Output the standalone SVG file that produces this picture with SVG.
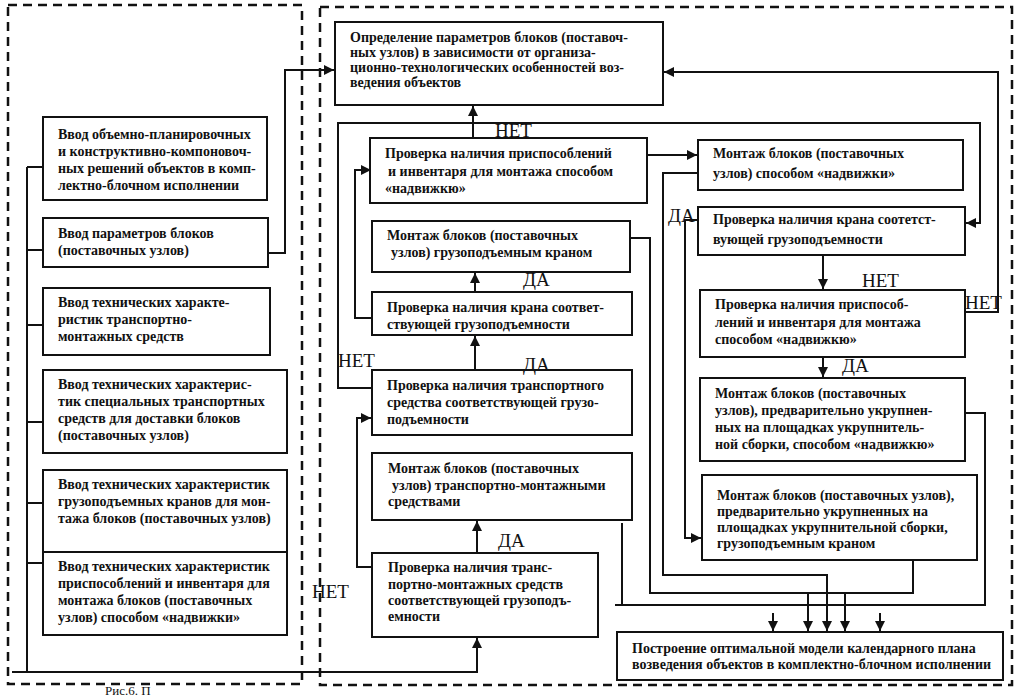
<svg xmlns="http://www.w3.org/2000/svg" width="1028" height="696" viewBox="0 0 1028 696">
<defs>
<marker id="ah" viewBox="0 0 10 10" refX="10" refY="5" markerWidth="10" markerHeight="10" markerUnits="userSpaceOnUse" orient="auto">
<path d="M0,0 L10,5 L0,10 z" fill="#111"/>
</marker>
</defs>
<style>
.bx{fill:#fff;stroke:#111;stroke-width:2}
.dash{fill:none;stroke:#111;stroke-width:2.5;stroke-dasharray:9 6}
.ln{fill:none;stroke:#111;stroke-width:2}
.ar{fill:none;stroke:#111;stroke-width:2;marker-end:url(#ah)}
.t{font-family:"Liberation Serif","Times New Roman",serif;font-size:14px;font-weight:bold;fill:#111}
.lb{font-family:"Liberation Serif","Times New Roman",serif;font-size:19px;fill:#111}
</style>
<rect width="1028" height="696" fill="#fff"/>
<g id="frames">
<rect class="dash" x="8" y="5" width="294" height="679"/>
<rect class="dash" x="320" y="7" width="692" height="678"/>
</g>
<g id="connectors">
<path class="ln" d="M27,167 V672 M27,167 H43 M27,250 H43 M27,325 H43 M27,422 H43 M27,503 H43 M27,563 H43"/>
<path class="ar" d="M12,672 H477 V638"/>
<path class="ar" d="M268,253 H285 V70 H334"/>
<path class="ar" d="M965,312 H998 V72 H664"/>
<path class="ar" d="M473,138 V106"/>
<path class="ar" d="M372,388 H338 V123 H980 V223 H966"/>
<path class="ar" d="M647,155 H697"/>
<path class="ar" d="M372,318 H355 V170 H371"/>
<path class="ar" d="M475,292 V273"/>
<path class="ar" d="M475,370 V336"/>
<path class="ar" d="M477,553 V521"/>
<path class="ar" d="M372,567 H357 V418 H371"/>
<path class="ln" d="M630,238 H650 V593 H913 V560"/>
<path class="ar" d="M808,593 V631"/>
<path class="ar" d="M845,593 V631"/>
<path class="ar" d="M698,173 H663 V575 H827 V631"/>
<path class="ar" d="M698,220 H685 V538 H701"/>
<path class="ln" d="M622,523 V605 M615,605 H985 V413 H965"/>
<path class="ar" d="M773,613 V631"/>
<path class="ar" d="M880,613 V631"/>
<path class="ar" d="M823,255 V289"/>
<path class="ar" d="M823,357 V377"/>
</g>
<g id="L1"><rect class="bx" x="43" y="117" width="224" height="83"/>
<text class="t" x="58" y="139">Ввод объемно-планировочных</text>
<text class="t" x="58" y="156">и конструктивно-компоновоч-</text>
<text class="t" x="58" y="173">ных решений объектов в комп-</text>
<text class="t" x="58" y="190">лектно-блочном исполнении</text></g>
<g id="L2"><rect class="bx" x="43" y="218" width="225" height="49"/>
<text class="t" x="58" y="238">Ввод параметров блоков</text>
<text class="t" x="58" y="255">(поставочных узлов)</text></g>
<g id="L3"><rect class="bx" x="43" y="288" width="227" height="67"/>
<text class="t" x="58" y="307">Ввод технических характе-</text>
<text class="t" x="58" y="324">ристик транспортно-</text>
<text class="t" x="58" y="341">монтажных средств</text></g>
<g id="L4"><rect class="bx" x="43" y="370" width="244" height="83"/>
<text class="t" x="58" y="389">Ввод технических характерис-</text>
<text class="t" x="58" y="406">тик специальных  транспортных</text>
<text class="t" x="58" y="423">средств для доставки блоков</text>
<text class="t" x="58" y="440">(поставочных узлов)</text></g>
<g id="L5"><rect class="bx" x="43" y="470" width="244" height="82"/>
<text class="t" x="58" y="489">Ввод технических характеристик</text>
<text class="t" x="58" y="506">грузоподъемных кранов для мон-</text>
<text class="t" x="58" y="523">тажа блоков (поставочных узлов)</text></g>
<g id="L6"><rect class="bx" x="43" y="552" width="244" height="83"/>
<text class="t" x="58" y="571">Ввод технических характеристик</text>
<text class="t" x="58" y="588">приспособлений и инвентаря  для</text>
<text class="t" x="58" y="605">монтажа блоков (поставочных</text>
<text class="t" x="58" y="622">узлов) способом «надвижки»</text></g>
<g id="T"><rect class="bx" x="335" y="22" width="328" height="83"/>
<text class="t" x="350" y="42">Определение параметров блоков (поставоч-</text>
<text class="t" x="350" y="57">ных узлов) в зависимости от организа-</text>
<text class="t" x="350" y="72">ционно-технологических особенностей воз-</text>
<text class="t" x="350" y="87">ведения объектов</text></g>
<g id="M1"><rect class="bx" x="370" y="138" width="277" height="65"/>
<text class="t" x="385" y="158">Проверка наличия приспособлений</text>
<text class="t" x="388" y="176">и инвентаря для монтажа способом</text>
<text class="t" x="385" y="193">«надвижкю»</text></g>
<g id="M2"><rect class="bx" x="372" y="221" width="258" height="51"/>
<text class="t" x="387" y="240">Монтаж блоков (поставочных</text>
<text class="t" x="391" y="257">узлов) грузоподъемным краном</text></g>
<g id="M3"><rect class="bx" x="372" y="292" width="260" height="43"/>
<text class="t" x="387" y="312">Проверка наличия крана соответ-</text>
<text class="t" x="387" y="329">ствующей грузоподъемности</text></g>
<g id="M4"><rect class="bx" x="372" y="370" width="260" height="65"/>
<text class="t" x="387" y="390">Проверка наличия транспортного</text>
<text class="t" x="387" y="407">средства соответствующей грузо-</text>
<text class="t" x="387" y="424">подъемности</text></g>
<g id="M5"><rect class="bx" x="372" y="453" width="260" height="67"/>
<text class="t" x="388" y="473">Монтаж блоков (поставочных</text>
<text class="t" x="392" y="490">узлов) транспортно-монтажными</text>
<text class="t" x="388" y="506">средствами</text></g>
<g id="M6"><rect class="bx" x="372" y="553" width="226" height="84"/>
<text class="t" x="388" y="572">Проверка наличия транс-</text>
<text class="t" x="388" y="589">портно-монтажных средств</text>
<text class="t" x="388" y="605">соответствующей грузоподъ-</text>
<text class="t" x="388" y="621">емности</text></g>
<g id="R1"><rect class="bx" x="698" y="140" width="265" height="50"/>
<text class="t" x="713" y="158">Монтаж блоков (поставочных</text>
<text class="t" x="713" y="178">узлов) способом «надвижки»</text></g>
<g id="R2"><rect class="bx" x="698" y="207" width="267" height="48"/>
<text class="t" x="713" y="224">Проверка наличия крана соотетст-</text>
<text class="t" x="713" y="244">вующей грузоподъемности</text></g>
<g id="R3"><rect class="bx" x="700" y="290" width="265" height="67"/>
<text class="t" x="715" y="309">Проверка наличия приспособ-</text>
<text class="t" x="715" y="327">лений и инвентаря для монтажа</text>
<text class="t" x="715" y="344">способом «надвижкю»</text></g>
<g id="R4"><rect class="bx" x="700" y="378" width="265" height="83"/>
<text class="t" x="715" y="398">Монтаж блоков (поставочных</text>
<text class="t" x="715" y="415">узлов), предварительно укрупнен-</text>
<text class="t" x="715" y="432">ных на площадках укрупнитель-</text>
<text class="t" x="715" y="449">ной сборки, способом «надвижкю»</text></g>
<g id="R5"><rect class="bx" x="702" y="475" width="275" height="85"/>
<text class="t" x="717" y="500">Монтаж блоков (поставочных узлов),</text>
<text class="t" x="717" y="516">предварительно укрупненных на</text>
<text class="t" x="717" y="532">площадках укрупнительной сборки,</text>
<text class="t" x="717" y="548">грузоподъемным краном</text></g>
<g id="B"><rect class="bx" x="617" y="632" width="386" height="48"/>
<text class="t" x="632" y="653">Построение оптимальной модели календарного  плана</text>
<text class="t" x="632" y="669">возведения объектов в комплектно-блочном  исполнении</text></g>
<g id="labels">
<text class="lb" x="495" y="137">НЕТ</text>
<text class="lb" x="523" y="286">ДА</text>
<text class="lb" x="523" y="371">ДА</text>
<text class="lb" x="338" y="367">НЕТ</text>
<text class="lb" x="498" y="547">ДА</text>
<text class="lb" x="312" y="598">НЕТ</text>
<text class="lb" x="668" y="222">ДА</text>
<text class="lb" x="862" y="287">НЕТ</text>
<text class="lb" x="842" y="372">ДА</text>
<text class="lb" x="965" y="309">НЕТ</text>
<text class="lb" x="105" y="695" style="font-size:13px">Рис.6. П</text>
</g>
</svg>
